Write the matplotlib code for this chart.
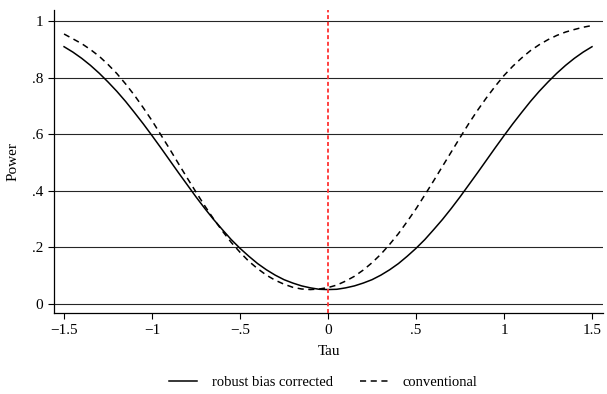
import matplotlib
matplotlib.use("Agg")
import matplotlib.pyplot as plt

# values, every 0.05 on tau
tau = [-1.5, -1.45, -1.4, -1.35, -1.3, -1.25, -1.2, -1.15, -1.1, -1.05,
       -1.0, -0.95, -0.9, -0.85, -0.8, -0.75, -0.7, -0.65, -0.6, -0.55,
       -0.5, -0.45, -0.4, -0.35, -0.3, -0.25, -0.2, -0.15, -0.1, -0.05,
       0.0, 0.05, 0.1, 0.15, 0.2, 0.25, 0.3, 0.35, 0.4, 0.45,
       0.5, 0.55, 0.6, 0.65, 0.7, 0.75, 0.8, 0.85, 0.9, 0.95,
       1.0, 1.05, 1.1, 1.15, 1.2, 1.25, 1.3, 1.35, 1.4, 1.45, 1.5]
robust = [0.910, 0.891, 0.869, 0.844, 0.816, 0.785, 0.752, 0.716, 0.677, 0.637,
          0.595, 0.552, 0.508, 0.464, 0.421, 0.378, 0.337, 0.298, 0.262, 0.227,
          0.196, 0.168, 0.142, 0.120, 0.101, 0.085, 0.073, 0.063, 0.056, 0.051,
          0.050, 0.051, 0.056, 0.063, 0.073, 0.085, 0.101, 0.120, 0.142, 0.168,
          0.196, 0.227, 0.262, 0.298, 0.337, 0.378, 0.421, 0.464, 0.508, 0.552,
          0.595, 0.637, 0.677, 0.716, 0.752, 0.785, 0.816, 0.844, 0.869, 0.891, 0.910]
conventional = [0.955, 0.938, 0.921, 0.900, 0.876, 0.847, 0.815, 0.778, 0.738, 0.694,
                0.648, 0.598, 0.548, 0.496, 0.445, 0.395, 0.346, 0.300, 0.257, 0.217,
                0.182, 0.150, 0.124, 0.101, 0.083, 0.069, 0.058, 0.052, 0.050, 0.052,
                0.057, 0.066, 0.080, 0.097, 0.119, 0.145, 0.175, 0.210, 0.248, 0.291,
                0.336, 0.385, 0.435, 0.486, 0.537, 0.588, 0.638, 0.685, 0.729, 0.770,
                0.808, 0.841, 0.870, 0.896, 0.917, 0.935, 0.950, 0.962, 0.971, 0.979, 0.985]

xticks = [-1.5, -1, -0.5, 0, 0.5, 1, 1.5]
xticklabels = ["\u22121.5", "\u22121", "\u2212.5", "0", ".5", "1", "1.5"]
yticks = [0, 0.2, 0.4, 0.6, 0.8, 1]
yticklabels = ["0", ".2", ".4", ".6", ".8", "1"]

plt.rcParams["font.family"] = ["Liberation Serif", "DejaVu Serif"]
plt.rcParams["font.size"] = 11

fig = plt.figure(figsize=(6.07, 3.94), dpi=100)
ax = fig.add_axes([0.089, 0.2063, 0.9044, 0.7683])

for y in yticks:
    ax.axhline(y, color="0.15", lw=0.8, zorder=1)

ax.plot(tau, robust, color="black", lw=1.1, label="robust bias corrected", zorder=3)
ax.plot(tau, conventional, color="black", lw=1.1, linestyle=(0, (4, 3)),
        label="conventional", zorder=3)
ax.axvline(0, color="#ff3030", lw=1.3, linestyle=(0, (2.2, 1.5)), zorder=4)

ax.set_xlim(-1.557, 1.5625)
ax.set_ylim(-0.032, 1.04)
ax.set_xticks(xticks)
ax.set_xticklabels(xticklabels)
ax.set_yticks(yticks)
ax.set_yticklabels(yticklabels)
ax.tick_params(direction="out", length=4.5, width=0.8, color="black", labelsize=11)

for side in ["top", "right"]:
    ax.spines[side].set_visible(False)
for side in ["left", "bottom"]:
    ax.spines[side].set_linewidth(0.9)

ax.set_xlabel("Tau", fontsize=11, labelpad=6)
ax.set_ylabel("Power", fontsize=11, labelpad=9)

ax.legend(loc="center", bbox_to_anchor=(0.533, 1 - 382 / 394), bbox_transform=fig.transFigure,
          ncol=2, frameon=False, handlelength=1.9, handletextpad=1.0,
          columnspacing=1.9, fontsize=10.5)

fig.savefig("out.png", dpi=100)
